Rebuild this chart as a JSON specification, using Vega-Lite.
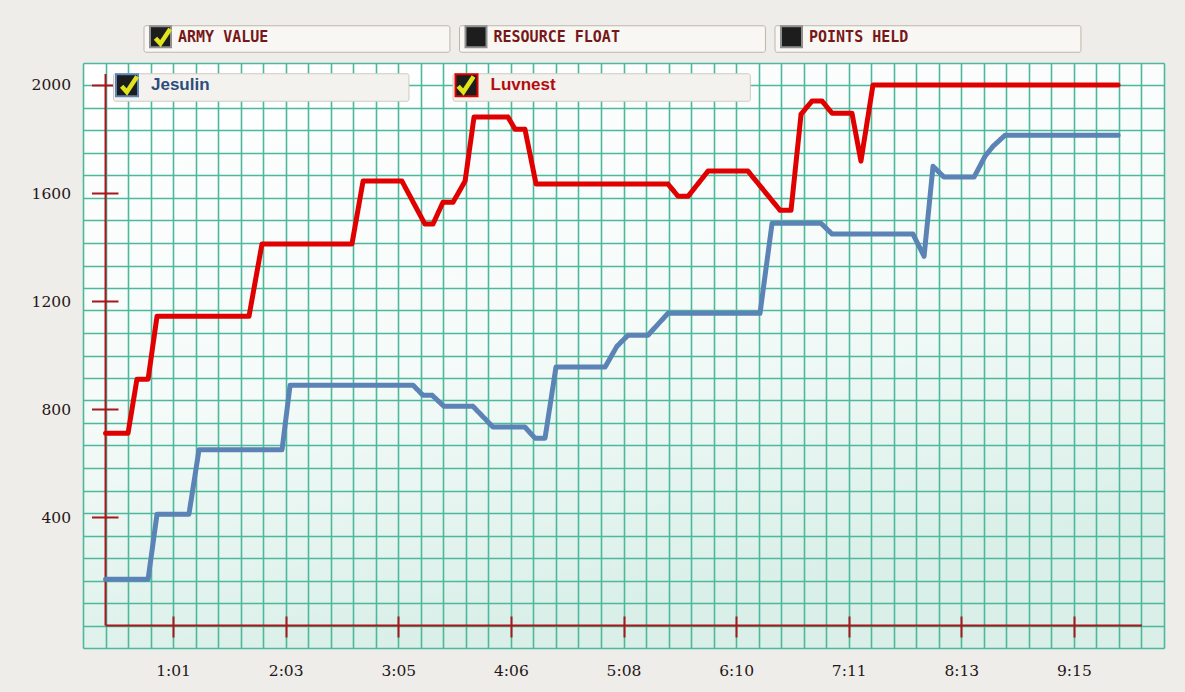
{
  "$schema": "https://vega.github.io/schema/vega-lite/v6.json",
  "width": 1081,
  "height": 585,
  "autosize": {"type": "none"},
  "padding": {"left": 83, "top": 63, "right": 21, "bottom": 44},
  "background": "#efedea",
  "config": {"view": {"fill": {"gradient": "linear", "x1": 0, "y1": 0, "x2": 0.3, "y2": 1, "stops": [{"offset": 0, "color": "#ffffff"}, {"offset": 0.55, "color": "#f5fbf9"}, {"offset": 1, "color": "#d9efe8"}]}, "stroke": null}},
  "resolve": {"axis": {"x": "independent", "y": "independent"}},
  "layer": [
    {
      "data": {"values": [{}]},
      "mark": {"type": "rule", "color": "#a8171b", "strokeWidth": 2},
      "encoding": {
        "x": {"datum": 24.68, "type": "quantitative", "scale": {"domain": [12.34, 604.66], "nice": false, "zero": false}, "axis": null},
        "y": {"datum": 0, "type": "quantitative", "scale": {"domain": [-83.24, 2081], "nice": false, "zero": false}, "axis": null},
        "y2": {"datum": 2040}
      }
    },
    {
      "data": {"values": [{}]},
      "mark": {"type": "rule", "color": "#a8171b", "strokeWidth": 2},
      "encoding": {
        "x": {
          "datum": 24.68, "type": "quantitative",
          "scale": {"domain": [12.34, 604.66], "nice": false, "zero": false},
          "axis": {
            "orient": "bottom", "values": [61.7, 123.4, 185.1, 246.8, 308.5, 370.2, 431.9, 493.6, 555.3],
            "labelExpr": "floor(datum.value/60) + ':' + (floor(datum.value%60) < 10 ? '0' : '') + floor(datum.value%60)",
            "offset": -32, "tickSize": 21, "tickColor": "#a8171b", "tickWidth": 2, "domain": false, "grid": false,
            "labelPadding": 26, "labelFont": "DejaVu Serif", "labelFontSize": 15.5, "labelColor": "#241616",
            "title": null, "labelFlush": false, "labelOverlap": false, "zindex": 1
          }
        },
        "x2": {"datum": 592.6},
        "y": {
          "datum": 0, "type": "quantitative",
          "scale": {"domain": [-83.24, 2081], "nice": false, "zero": false},
          "axis": {
            "orient": "left", "values": [400, 800, 1200, 1600, 2000], "format": "d",
            "offset": -35, "tickSize": 26.5, "tickColor": "#a8171b", "tickWidth": 2, "domain": false, "grid": false,
            "labelPadding": 21, "labelFont": "DejaVu Serif", "labelFontSize": 15.5, "labelColor": "#241616",
            "title": null, "labelFlush": false, "labelOverlap": false, "zindex": 1
          }
        }
      }
    },
    {
      "data": {"values": [
        {"player": "Luvnest", "time": 24.7, "army": 711},
        {"player": "Luvnest", "time": 37.0, "army": 711},
        {"player": "Luvnest", "time": 41.9, "army": 911},
        {"player": "Luvnest", "time": 48.0, "army": 911},
        {"player": "Luvnest", "time": 52.9, "army": 1144},
        {"player": "Luvnest", "time": 103.3, "army": 1144},
        {"player": "Luvnest", "time": 110.4, "army": 1411},
        {"player": "Luvnest", "time": 159.7, "army": 1411},
        {"player": "Luvnest", "time": 165.8, "army": 1644},
        {"player": "Luvnest", "time": 187.1, "army": 1644},
        {"player": "Luvnest", "time": 199.7, "army": 1485},
        {"player": "Luvnest", "time": 204.1, "army": 1485},
        {"player": "Luvnest", "time": 209.6, "army": 1566},
        {"player": "Luvnest", "time": 215.1, "army": 1566},
        {"player": "Luvnest", "time": 221.7, "army": 1644},
        {"player": "Luvnest", "time": 226.6, "army": 1881},
        {"player": "Luvnest", "time": 245.2, "army": 1881},
        {"player": "Luvnest", "time": 249.1, "army": 1836},
        {"player": "Luvnest", "time": 254.5, "army": 1836},
        {"player": "Luvnest", "time": 260.6, "army": 1633},
        {"player": "Luvnest", "time": 332.9, "army": 1633},
        {"player": "Luvnest", "time": 338.4, "army": 1588},
        {"player": "Luvnest", "time": 343.9, "army": 1588},
        {"player": "Luvnest", "time": 354.8, "army": 1681},
        {"player": "Luvnest", "time": 376.7, "army": 1681},
        {"player": "Luvnest", "time": 394.3, "army": 1536},
        {"player": "Luvnest", "time": 400.3, "army": 1536},
        {"player": "Luvnest", "time": 405.8, "army": 1892},
        {"player": "Luvnest", "time": 411.8, "army": 1940},
        {"player": "Luvnest", "time": 417.3, "army": 1940},
        {"player": "Luvnest", "time": 422.8, "army": 1895},
        {"player": "Luvnest", "time": 433.7, "army": 1895},
        {"player": "Luvnest", "time": 438.6, "army": 1718},
        {"player": "Luvnest", "time": 445.2, "army": 2000},
        {"player": "Luvnest", "time": 579.5, "army": 2000},
        {"player": "Jesulin", "time": 24.7, "army": 171},
        {"player": "Jesulin", "time": 48.0, "army": 171},
        {"player": "Jesulin", "time": 52.9, "army": 412},
        {"player": "Jesulin", "time": 70.4, "army": 412},
        {"player": "Jesulin", "time": 75.9, "army": 650},
        {"player": "Jesulin", "time": 121.4, "army": 650},
        {"player": "Jesulin", "time": 125.8, "army": 889},
        {"player": "Jesulin", "time": 193.2, "army": 889},
        {"player": "Jesulin", "time": 198.6, "army": 852},
        {"player": "Jesulin", "time": 203.6, "army": 852},
        {"player": "Jesulin", "time": 210.1, "army": 811},
        {"player": "Jesulin", "time": 226.0, "army": 811},
        {"player": "Jesulin", "time": 237.0, "army": 734},
        {"player": "Jesulin", "time": 254.5, "army": 734},
        {"player": "Jesulin", "time": 260.0, "army": 693},
        {"player": "Jesulin", "time": 265.5, "army": 693},
        {"player": "Jesulin", "time": 271.5, "army": 956},
        {"player": "Jesulin", "time": 298.4, "army": 956},
        {"player": "Jesulin", "time": 304.9, "army": 1033},
        {"player": "Jesulin", "time": 311.0, "army": 1074},
        {"player": "Jesulin", "time": 321.9, "army": 1074},
        {"player": "Jesulin", "time": 332.9, "army": 1155},
        {"player": "Jesulin", "time": 383.3, "army": 1155},
        {"player": "Jesulin", "time": 389.9, "army": 1488},
        {"player": "Jesulin", "time": 416.7, "army": 1488},
        {"player": "Jesulin", "time": 422.8, "army": 1448},
        {"player": "Jesulin", "time": 467.1, "army": 1448},
        {"player": "Jesulin", "time": 473.2, "army": 1366},
        {"player": "Jesulin", "time": 478.1, "army": 1699},
        {"player": "Jesulin", "time": 484.1, "army": 1659},
        {"player": "Jesulin", "time": 500.6, "army": 1659},
        {"player": "Jesulin", "time": 506.6, "army": 1736},
        {"player": "Jesulin", "time": 511.0, "army": 1773},
        {"player": "Jesulin", "time": 517.6, "army": 1814},
        {"player": "Jesulin", "time": 579.5, "army": 1814}
      ]},
      "mark": {"type": "line", "strokeWidth": 5, "strokeJoin": "round", "strokeCap": "round"},
      "encoding": {
        "x": {
          "field": "time", "type": "quantitative",
          "scale": {"domain": [12.34, 604.66], "nice": false, "zero": false},
          "axis": {
            "orient": "bottom",
            "values": [12.34, 24.68, 37.02, 49.36, 61.7, 74.04, 86.38, 98.72, 111.06, 123.4, 135.74, 148.08, 160.42, 172.76, 185.1, 197.44, 209.78, 222.12, 234.46, 246.8, 259.14, 271.48, 283.82, 296.16, 308.5, 320.84, 333.18, 345.52, 357.86, 370.2, 382.54, 394.88, 407.22, 419.56, 431.9, 444.24, 456.58, 468.92, 481.26, 493.6, 505.94, 518.28, 530.62, 542.96, 555.3, 567.64, 579.98, 592.32, 604.66],
            "grid": true, "gridColor": "#4cb89c", "gridWidth": 1.6, "gridOpacity": 1,
            "labels": false, "ticks": false, "domain": false, "title": null, "zindex": 0
          }
        },
        "y": {
          "field": "army", "type": "quantitative",
          "scale": {"domain": [-83.24, 2081], "nice": false, "zero": false},
          "axis": {
            "orient": "left",
            "values": [-83.24, 0, 83.24, 166.48, 249.72, 332.96, 416.2, 499.44, 582.68, 665.92, 749.16, 832.4, 915.64, 998.88, 1082.12, 1165.36, 1248.6, 1331.84, 1415.08, 1498.32, 1581.56, 1664.8, 1748.04, 1831.28, 1914.52, 1997.76, 2081],
            "grid": true, "gridColor": "#4cb89c", "gridWidth": 1.6, "gridOpacity": 1,
            "labels": false, "ticks": false, "domain": false, "title": null, "zindex": 0
          }
        },
        "color": {
          "field": "player", "type": "nominal",
          "scale": {"domain": ["Jesulin", "Luvnest"], "range": ["#5b83b5", "#e00000"]},
          "legend": {
            "orient": "none", "legendX": 30, "legendY": 10, "direction": "horizontal", "columns": 2,
            "title": null, "padding": 0, "symbolType": "square", "symbolSize": 484, "symbolOffset": 2,
            "symbolOpacity": 1, "labelFont": "Liberation Sans", "labelFontSize": 17, "labelFontWeight": "bold",
            "labelOffset": 12, "columnPadding": 41.5, "labelLimit": 400, "zindex": 1,
            "labelExpr": "pad(datum.label, datum.label === 'Jesulin' ? 49 : 48, '\u00a0') + '\u200b'",
            "encode": {
              "symbols": {"update": {"fill": {"value": "#1d1d1d"}, "stroke": {"value": "#8f8f8f"}, "strokeWidth": {"value": 2}, "opacity": {"value": 1}, "size": {"value": 484}}},
              "labels": {"update": {"fill": {"signal": "indexof(datum.label, 'Jesulin') >= 0 ? '#2d4d7c' : '#b40d0d'"}}},
              "entries": {"update": {"fill": {"value": "#f4f2ee"}, "stroke": {"value": "#cfcac2"}, "cornerRadius": {"value": 2}}}
            }
          }
        },
        "strokeDash": {
          "field": "player", "type": "nominal",
          "scale": {"range": [[1, 0], [1, 0]]},
          "legend": {
            "orient": "none", "legendX": 30, "legendY": 10, "direction": "horizontal", "columns": 2,
            "title": null, "padding": 0, "symbolType": "M-0.62,-0.02L-0.15,0.5L0.78,-0.9", "symbolSize": 484, "symbolOffset": 2,
            "symbolOpacity": 1, "labelFontSize": 2, "labelExpr": "''", "labelOffset": 0, "columnPadding": 301.5, "zindex": 2,
            "encode": {
              "symbols": {"update": {"shape": {"value": "M-0.62,-0.02L-0.15,0.5L0.78,-0.9"}, "fill": {"value": "transparent"}, "stroke": {"value": "#dfe41d"}, "strokeWidth": {"value": 4.5}, "strokeDash": {"value": [1, 0]}, "opacity": {"value": 1}, "size": {"value": 484}}}
            }
          }
        }
      }
    },
    {
      "data": {"values": [{"tab": "ARMY VALUE"}, {"tab": "RESOURCE FLOAT"}, {"tab": "POINTS HELD"}]},
      "mark": {"type": "point", "filled": false, "size": 0, "strokeWidth": 0},
      "encoding": {
        "x": {"datum": 300, "type": "quantitative", "scale": {"domain": [12.34, 604.66], "nice": false, "zero": false}, "axis": null},
        "y": {"datum": 1000, "type": "quantitative", "scale": {"domain": [-83.24, 2081], "nice": false, "zero": false}, "axis": null},
        "fill": {
          "field": "tab", "type": "nominal",
          "scale": {"domain": ["ARMY VALUE", "RESOURCE FLOAT", "POINTS HELD"], "range": ["#1d1d1d", "#1d1d1d", "#1d1d1d"]},
          "legend": {
            "orient": "none", "legendX": 60.5, "legendY": -38, "direction": "horizontal", "columns": 3,
            "title": null, "padding": 0, "symbolType": "square", "symbolSize": 441, "symbolOffset": 5.5,
            "symbolOpacity": 1, "symbolStrokeColor": "#8f8f8f", "symbolStrokeWidth": 2,
            "labelFont": "DejaVu Sans Mono", "labelFontSize": 15, "labelFontWeight": "bold",
            "labelColor": "#761818", "labelOffset": 6, "columnPadding": 9.5, "labelLimit": 400, "zindex": 1,
            "labelExpr": "pad(datum.label, 30, '\u00a0') + '\u200b'",
            "encode": {
              "symbols": {"update": {"stroke": {"value": "#8f8f8f"}, "strokeWidth": {"value": 2}, "opacity": {"value": 1}, "size": {"value": 441}}},
              "entries": {"update": {"fill": {"value": "#f8f7f4"}, "stroke": {"value": "#bdb6aa"}, "cornerRadius": {"value": 2}}}
            }
          }
        },
        "shape": {
          "field": "tab", "type": "nominal", "sort": null,
          "scale": {"range": ["M-0.62,-0.02L-0.15,0.5L0.78,-0.9", "M0,0", "M0,0"]},
          "legend": {
            "orient": "none", "legendX": 60.5, "legendY": -38, "direction": "horizontal", "columns": 3,
            "title": null, "padding": 0, "symbolSize": 441, "symbolOffset": 5.5, "symbolOpacity": 1,
            "symbolStrokeColor": "#dfe41d", "symbolFillColor": "transparent", "symbolStrokeWidth": 4.5,
            "labelFontSize": 2, "labelExpr": "''", "labelOffset": 0, "columnPadding": 290, "zindex": 2,
            "encode": {
              "symbols": {"update": {"fill": {"value": "transparent"}, "stroke": {"value": "#dfe41d"}, "strokeWidth": {"value": 4.5}, "opacity": {"value": 1}, "size": {"value": 441}}}
            }
          }
        }
      }
    }
  ]
}
